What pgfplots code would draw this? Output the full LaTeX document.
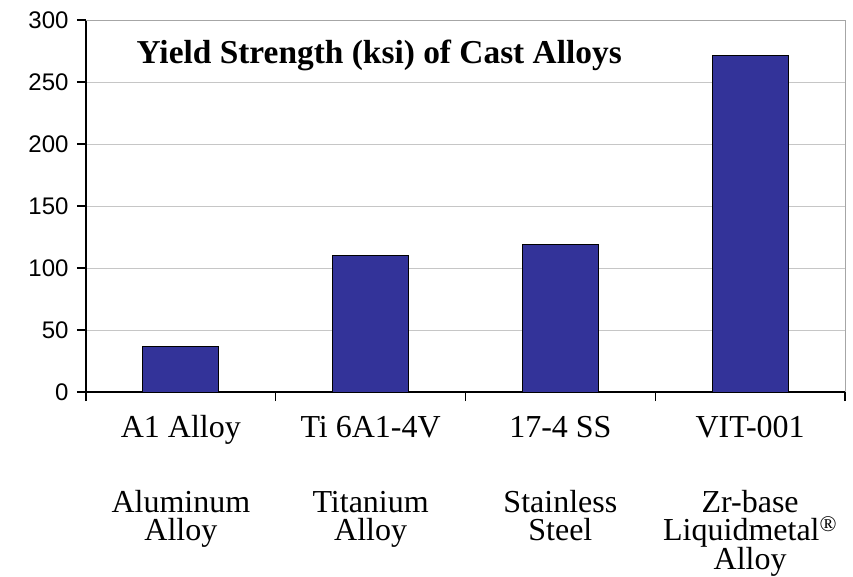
\documentclass[border=0pt]{standalone}
\usepackage{pgfplots}
\pgfplotsset{compat=1.18}
\usepackage{fontspec}
\setmainfont{Liberation Serif}
\newfontfamily\arialf{Liberation Sans}
\definecolor{barblue}{HTML}{333399}
\newcommand{\tstrut}{\vrule height 24pt depth 0pt width 0pt\relax}
\newcommand{\lblfont}{\fontsize{32}{28.5}\selectfont\lineskiplimit=-100pt\relax\lineskip=0pt\relax}
\begin{document}
\begin{tikzpicture}[x=1pt,y=1pt]
\begin{axis}[
  at={(86pt,-392pt)}, anchor=south west,
  scale only axis, width=759pt, height=372pt,
  xmin=-0.5, xmax=3.5, ymin=0, ymax=300,
  ytick={0,50,...,300},
  xtick={-0.5,0.5,1.5,2.5,3.5},
  x tick label as interval,
  xticklabels={{\tstrut A1 Alloy\\[46.5pt]Aluminum\\Alloy},{\tstrut Ti 6A1-4V\\[46.5pt]Titanium\\Alloy},{\tstrut 17-4 SS\\[46.5pt]Stainless\\Steel},{\tstrut VIT-001\\[46.5pt]Zr-base\\Liquidmetal\textsuperscript{\textregistered}\\Alloy}},
  xticklabel style={align=center, font=\lblfont, anchor=north, inner ysep=0pt, yshift=-12pt},
  yticklabel style={font=\arialf\fontsize{24}{26}\selectfont, xshift=-5pt},
  /pgf/number format/assume math mode=true,
  axis x line*=bottom, axis y line*=left,
  axis line style={-, black, line width=1.4pt},
  tick align=outside, major tick length=9pt,
  tick style={black, line width=1.2pt},
  ymajorgrids, grid style={gray!45, line width=1pt},
  clip=false,
]
\addplot[ybar, bar width=0.4, fill=barblue, draw=black, line width=1pt] coordinates {(0,37) (1,110) (2,119) (3,271)};
\draw[gray!70, line width=1pt] (rel axis cs:0,1) -- (rel axis cs:1,1) -- (rel axis cs:1,0);
\node[anchor=west, font=\bfseries\fontsize{33.4}{34}\selectfont] at (rel axis cs:0.062,0.906) {Yield Strength (ksi) of Cast Alloys};
\end{axis}
\path (0,0) rectangle (853pt,-577pt);
\end{tikzpicture}
\end{document}
